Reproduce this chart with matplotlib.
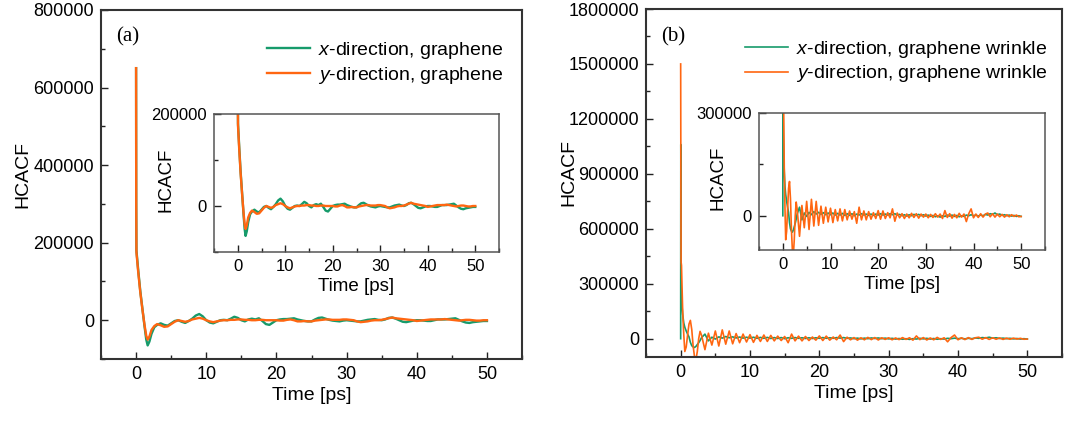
import numpy as np
import matplotlib.pyplot as plt
from matplotlib.ticker import MultipleLocator, FuncFormatter

plt.rcParams['font.family'] = 'Liberation Sans'
plt.rcParams['mathtext.fontset'] = 'custom'
plt.rcParams['mathtext.rm'] = 'Liberation Sans'
plt.rcParams['mathtext.it'] = 'Liberation Sans:italic'

GREEN = '#169b6b'
ORANGE = '#ff6611'

# ---- HCACF data, graphene (a) ----
t_a = [0, 0.02, 0.05, 0.3, 0.6, 0.9, 1.2, 1.45, 1.65, 1.9, 2.2, 2.6,
       3.0, 3.5, 4.0, 4.5, 5.0, 5.5, 6.0, 6.5, 7.0, 7.5, 8.0, 8.5, 9.0, 9.5,
       10.0, 10.5, 11.0, 11.5, 12.0, 12.5, 13.0, 13.5, 14.0, 14.5, 15.0, 15.5,
       16.0, 16.5, 17.0, 17.5, 18.0, 18.5, 19.0, 19.5, 20.0, 20.5, 21.0, 21.5,
       22.0, 22.5, 23.0, 23.5, 24.0, 24.5, 25.0, 25.5, 26.0, 26.5, 27.0, 27.5,
       28.0, 28.5, 29.0, 29.5, 30.0, 30.5, 31.0, 31.5, 32.0, 32.5, 33.0, 33.5,
       34.0, 34.5, 35.0, 35.5, 36.0, 36.5, 37.0, 37.5, 38.0, 38.5, 39.0, 39.5,
       40.0, 40.5, 41.0, 41.5, 42.0, 42.5, 43.0, 43.5, 44.0, 44.5, 45.0, 45.5,
       46.0, 46.5, 47.0, 47.5, 48.0, 48.5, 49.0, 49.5, 50.0]
hcacf_x_a = [650000, 300000, 180000, 130000, 75000, 30000, -15000, -50000, -65000, -55000, -35000, -18000,
             -12000, -8000, -12000, -14000, -8000, -2000, 0, -4000, -7000, -2000, 4000, 12000, 16000, 10000,
             0, -6000, -8000, -4000, 0, 1000, 0, 4000, 9000, 6000, 0, -3000,
             2000, 4000, 2000, 5000, -2000, -10000, -12000, -6000, 0, 2000, 3000, 3000,
             4000, 5000, 2000, 0, -2000, -3000, -3000, 2000, 6000, 7000, 4000, 1000,
             -1000, -2000, -3000, -1000, 0, -1000, -2000, -3000, -3000, -1000, 1000, 2000,
             3000, 1000, 0, 2000, 6000, 7000, 4000, 0, -4000, -5000, -3000, -1000,
             0, 0, -1000, -2000, -2000, 0, 2000, 2000, 2000, 3000, 4000, 5000,
             1000, -3000, -6000, -7000, -5000, -4000, -3000, -2000, -2000]
hcacf_y_a = [650000, 300000, 175000, 125000, 72000, 28000, -12000, -40000, -50000, -42000, -25000, -15000,
             -10000, -13000, -17000, -16000, -10000, -4000, 0, -2000, -4000, -2000, 2000, 4000, 6000, 4000,
             0, -3000, -5000, -3000, -1000, 0, 0, 1000, 1000, 2000, 2000, 1000,
             1000, 0, 0, 1000, 1000, 0, 0, 0, 0, -1000, -1000, 1000,
             2000, 0, -3000, -3000, -2000, -3000, -3000, -1000, 0, 1000, 2000, 2000,
             1000, 1000, 1000, 2000, 2000, 1000, 0, -3000, -5000, -4000, -3000, -1000,
             0, 0, 1000, 3000, 5000, 7000, 5000, 4000, 3000, 2000, 1000, 0,
             -2000, -1000, 0, 1000, 2000, 2000, 2000, 2000, 3000, 2000, 1000, 0,
             -1000, 0, 1000, 1000, 0, -1000, -1000, 0, 0]

# ---- HCACF data, graphene wrinkle (b) ----
t_b = [0, 0.02, 0.06, 0.12, 0.2, 0.3, 0.45, 0.6, 0.8, 1.0, 1.2, 1.4, 1.6, 1.8,
       2.0, 2.2, 2.4, 2.6, 2.8,
       3.0, 3.5, 4.0, 4.5, 5.0, 5.5, 6.0, 6.5, 7.0, 7.5, 8.0, 8.5, 9.0, 9.5,
       10.0, 10.5, 11.0, 11.5, 12.0, 12.5, 13.0, 13.5, 14.0, 14.5, 15.0, 15.5,
       16.0, 16.5, 17.0, 17.5, 18.0, 18.5, 19.0, 19.5, 20.0, 20.5, 21.0, 21.5,
       22.0, 22.5, 23.0, 23.5, 24.0, 24.5, 25.0, 25.5, 26.0, 26.5, 27.0, 27.5,
       28.0, 28.5, 29.0, 29.5, 30.0, 30.5, 31.0, 31.5, 32.0, 32.5, 33.0, 33.5,
       34.0, 34.5, 35.0, 35.5, 36.0, 36.5, 37.0, 37.5, 38.0, 38.5, 39.0, 39.5,
       40.0, 40.5, 41.0, 41.5, 42.0, 42.5, 43.0, 43.5, 44.0, 44.5, 45.0, 45.5,
       46.0, 46.5, 47.0, 47.5, 48.0, 48.5, 49.0, 49.5, 50.0]
hcacf_x_b = [0, 1060000, 300000, 230000, 175000, 130000, 85000, 62000, 42000, 25000, 10000, -20000, -38000, -45000,
             -48000, -42000, -32000, -22000, -10000,
             5000, 25000, -12000, 8000, -2000, 10000, 3000, 12000, 5000, 10000, 4000, 9000, 3000, 8000,
             3000, 8000, 2000, 7000, 2000, 7000, 1000, 6000, 1000, 6000, 0, 5000,
             2000, 6000, 2000, 5000, 1000, 5000, 1000, 5000, 2000, 6000, 2000, 5000,
             2000, 6000, 3000, 6000, 2000, 4000, 0, 3000, -1000, 3000, 0, 4000,
             1000, 4000, 0, 3000, -1000, 2000, -2000, 1000, -3000, 0, -4000, 0,
             -2000, 2000, -1000, 2000, -2000, 1000, -3000, 0, -2000, 2000, 0, 3000,
             0, 2000, -1000, 2000, 0, 4000, 2000, 6000, 4000, 8000, 3000, 5000,
             1000, 3000, 0, 2000, -1000, 1000, -2000, 0, -2000]
hcacf_y_b = [1500000, 1100000, 420000, 400000, 280000, 140000, 20000, -70000, -45000, 20000, 80000, 100000, 50000, -40000,
             -100000, -115000, -70000, 0, 40000,
             20000, -60000, 30000, -35000, 42000, -40000, 48000, -30000, 42000, -28000, 28000, -22000, 25000, -18000,
             22000, -20000, 18000, -15000, 20000, -15000, 18000, -12000, 14000, -10000, 12000, -22000,
             25000, -12000, 14000, -12000, 12000, -10000, 9000, -8000, 15000, -10000, 14000, -8000,
             9000, -6000, 20000, -16000, 8000, -6000, 6000, -8000, 5000, -6000, 7000, -5000,
             6000, -7000, 5000, -4000, 5000, -6000, 4000, -5000, 6000, -4000, 5000, -8000,
             15000, -5000, 6000, -7000, 4000, -6000, 7000, -4000, 5000, -17000, 6000, 20000,
             -6000, 5000, -5000, 6000, -4000, 5000, 8000, -3000, 6000, -4000, 5000, -3000,
             4000, -4000, 3000, -3000, 3000, -2000, 2000, -3000, -2000]


def box(left, top, right, bottom):
    # pixel edges -> figure fraction rect
    return [left / 1078, 1 - bottom / 421, (right - left) / 1078, (bottom - top) / 421]


def style(ax, ylim, ymajor, yminor, fs, spine_color, spine_lw):
    ax.set_xlim(-5, 55)
    ax.set_ylim(*ylim)
    ax.xaxis.set_major_locator(MultipleLocator(10))
    ax.xaxis.set_minor_locator(MultipleLocator(5))
    ax.yaxis.set_major_locator(MultipleLocator(ymajor))
    ax.yaxis.set_minor_locator(MultipleLocator(yminor))
    ax.yaxis.set_major_formatter(FuncFormatter(lambda v, p: '%d' % int(round(v))))
    ax.tick_params(which='both', direction='in', top=False, right=False,
                   labelsize=fs, color='#222222', width=1)
    ax.tick_params(which='major', length=5, pad=5)
    ax.tick_params(which='minor', length=3)
    for s in ax.spines.values():
        s.set_color(spine_color)
        s.set_linewidth(spine_lw)


fig = plt.figure(figsize=(10.78, 4.21), dpi=100)

ax_a = fig.add_axes(box(101, 10, 522, 359))
ins_a = fig.add_axes(box(214, 114, 499, 252))
ax_b = fig.add_axes(box(646, 9, 1062, 357))
ins_b = fig.add_axes(box(759, 113, 1045, 250))

# panel (a)
for ax, lw in ((ax_a, 1.7), (ins_a, 1.7)):
    ax.plot(t_a, hcacf_x_a, color=GREEN, lw=lw, label='$x$-direction, graphene')
    ax.plot(t_a, hcacf_y_a, color=ORANGE, lw=lw, label='$y$-direction, graphene')

# panel (b)
for ax, lw in ((ax_b, 1.2), (ins_b, 1.2)):
    ax.plot(t_b, hcacf_x_b, color=GREEN, lw=lw, label='$x$-direction, graphene wrinkle')
    ax.plot(t_b, hcacf_y_b, color=ORANGE, lw=lw, label='$y$-direction, graphene wrinkle')

style(ax_a, (-100000, 800000), 200000, 100000, 13, '#333333', 1.5)
style(ins_a, (-100000, 200000), 200000, 100000, 12, '#555555', 1.1)
style(ax_b, (-100000, 1800000), 300000, 150000, 13, '#333333', 1.5)
style(ins_b, (-100000, 300000), 300000, 150000, 12, '#555555', 1.1)

for ax, fs in ((ax_a, 14), (ax_b, 14), (ins_a, 13.5), (ins_b, 13.5)):
    ax.set_xlabel('Time [ps]', fontsize=fs, labelpad=3)
    ax.set_ylabel('HCACF', fontsize=fs)

ax_a.yaxis.set_label_coords(-0.165, 0.53)
ax_b.yaxis.set_label_coords(-0.165, 0.53)
ins_a.yaxis.set_label_coords(-0.14, 0.52)
ins_b.yaxis.set_label_coords(-0.112, 0.53)

ax_a.legend(loc='upper right', bbox_to_anchor=(0.955, 0.915), frameon=False,
            fontsize=14, handlelength=2.2, handletextpad=0.4, labelspacing=0.2,
            borderpad=0, borderaxespad=0)
ax_b.legend(loc='upper right', bbox_to_anchor=(0.965, 0.915), frameon=False,
            fontsize=14, handlelength=2.2, handletextpad=0.4, labelspacing=0.2,
            borderpad=0, borderaxespad=0)

fig.text(116 / 1078, 1 - 37 / 421, '(a)', family='Liberation Serif', fontsize=15, va='center')
fig.text(661 / 1078, 1 - 37 / 421, '(b)', family='Liberation Serif', fontsize=15, va='center')

fig.savefig('out.png', dpi=100)
